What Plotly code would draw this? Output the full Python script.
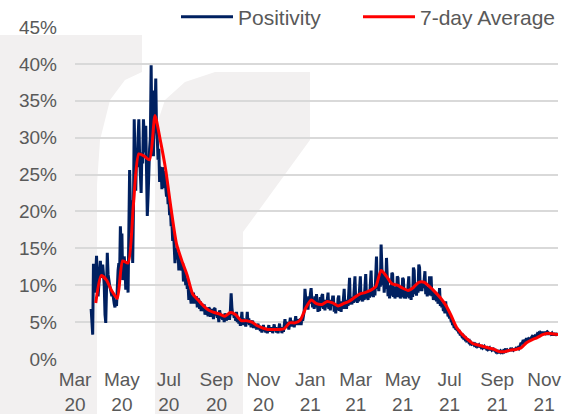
import pandas as pd
import plotly.graph_objects as go

# ---------------- data (percent) ----------------
# Daily test positivity, starting 2020-03-22, one row per week
positivity = [
    6.8, 5.0, 3.3, 12.9, 10.5, 9.0, 11.5,
    14.0, 11.0, 8.5, 10.0, 12.5, 13.3, 11.0,
    12.0, 12.8, 11.5, 10.0, 6.0, 4.9, 9.5,
    14.4, 11.5, 10.5, 10.0, 9.5, 9.0, 8.5,
    9.0, 8.0, 7.5, 7.0, 7.8, 7.2, 11.7,
    12.0, 13.0, 11.5, 18.0, 15.0, 17.0, 10.7,
    11.5, 13.9, 12.5, 9.4, 13.0, 12.5, 9.0,
    20.0, 25.6, 21.0, 17.0, 21.5, 13.0, 20.0,
    32.5, 27.0, 22.8, 28.0, 26.0, 30.0, 32.5,
    27.5, 24.0, 22.5, 28.0, 26.5, 32.5, 29.0,
    28.0, 31.6, 24.0, 19.4, 22.0, 27.0, 28.5,
    30.0, 39.8, 30.0, 36.0, 27.5, 36.4, 33.0,
    38.0, 31.0, 29.8, 27.0, 28.5, 24.0, 26.0,
    25.6, 23.0, 26.0, 23.2, 25.5, 24.5, 23.5,
    22.0, 23.5, 21.0, 22.0, 19.5, 20.5, 18.0,
    18.5, 16.0, 17.5, 15.5, 13.0, 15.0, 14.0,
    13.5, 14.5, 12.0, 13.8, 12.5, 13.0, 12.0,
    13.0, 10.5, 12.0, 11.5, 10.0, 11.0, 9.5,
    10.0, 8.0, 9.5, 8.5, 7.5, 8.5, 7.8,
    9.0, 7.5, 8.5, 7.8, 8.5, 7.0, 8.2,
    8.0, 6.8, 7.8, 6.5, 7.5, 6.5, 7.2,
    7.4, 6.0, 7.0, 6.2, 6.6, 5.8, 7.0,
    6.8, 5.7, 6.8, 6.0, 6.4, 5.4, 6.8,
    6.9, 5.9, 6.3, 5.6, 6.1, 5.0, 6.6,
    6.0, 5.5, 6.0, 5.3, 5.8, 5.0, 6.2,
    5.8, 5.2, 6.0, 5.5, 5.5, 5.5, 6.5,
    8.9, 7.0, 6.0, 6.2, 5.6, 5.8, 5.2,
    6.4, 5.0, 5.5, 4.8, 5.6, 4.5, 5.2,
    6.4, 4.6, 5.5, 4.6, 5.2, 4.4, 5.0,
    6.4, 4.8, 5.5, 4.6, 5.0, 4.3, 5.0,
    5.2, 4.2, 4.8, 4.2, 4.5, 4.0, 4.6,
    4.8, 4.0, 4.5, 3.8, 4.3, 3.6, 4.4,
    4.6, 3.8, 4.2, 3.6, 4.2, 3.5, 4.3,
    4.6, 3.7, 4.2, 3.8, 4.3, 3.5, 4.4,
    4.7, 3.8, 4.3, 3.6, 4.2, 3.5, 4.4,
    4.8, 3.8, 4.3, 3.5, 4.2, 3.7, 4.5,
    5.4, 4.3, 5.0, 4.4, 4.8, 4.0, 5.2,
    5.6, 4.4, 5.2, 4.5, 4.8, 4.3, 5.3,
    5.8, 4.6, 5.4, 4.6, 5.2, 4.8, 5.5,
    4.6, 5.5, 5.2, 5.8, 6.5, 9.5, 7.5,
    7.0, 8.0, 6.7, 8.5, 7.5, 8.8, 9.6,
    8.0, 7.0, 7.8, 6.8, 8.5, 7.0, 8.8,
    7.2, 6.4, 7.5, 6.5, 8.4, 7.0, 8.6,
    8.8, 6.8, 7.5, 6.6, 8.0, 7.0, 8.5,
    9.0, 6.8, 7.6, 6.6, 8.0, 7.2, 8.4,
    8.4, 6.4, 7.2, 6.2, 7.5, 6.6, 8.2,
    8.6, 6.5, 7.4, 6.4, 7.8, 6.8, 8.5,
    9.5, 6.8, 7.6, 6.8, 8.0, 7.2, 9.0,
    11.0, 7.4, 8.0, 7.4, 8.4, 7.6, 9.5,
    11.2, 7.8, 8.4, 7.6, 8.8, 7.8, 10.0,
    11.2, 8.0, 8.6, 7.8, 8.9, 8.0, 10.2,
    11.5, 8.2, 8.8, 8.0, 9.2, 8.3, 10.5,
    12.0, 8.5, 9.2, 8.4, 9.6, 8.6, 11.0,
    13.9, 9.5, 10.5, 9.2, 11.0, 9.8, 15.5,
    12.5, 10.0, 11.5, 9.0, 10.5, 9.5, 13.7,
    11.5, 8.5, 10.0, 8.2, 9.5, 8.6, 11.7,
    11.5, 8.4, 9.8, 8.2, 9.4, 8.4, 11.2,
    11.0, 8.4, 9.8, 8.2, 9.4, 8.4, 11.0,
    10.8, 8.2, 9.4, 8.2, 9.2, 8.4, 10.8,
    11.2, 8.2, 9.4, 8.0, 9.4, 8.4, 12.4,
    12.0, 8.8, 10.2, 8.6, 10.0, 9.0, 12.8,
    12.4, 9.2, 10.4, 9.2, 10.4, 9.6, 11.4,
    11.9, 8.8, 9.8, 8.5, 9.5, 8.6, 11.2,
    9.5, 11.2, 8.5, 9.2, 8.0, 8.8, 8.0,
    9.0, 7.8, 8.6, 7.5, 8.2, 9.6, 7.2,
    7.8, 7.0, 7.5, 6.5, 7.0, 6.2, 7.8,
    6.2, 6.6, 5.8, 6.0, 5.5, 5.8, 5.2,
    5.2, 4.6, 4.8, 4.2, 4.5, 4.0, 4.2,
    3.8, 4.0, 3.5, 3.6, 3.2, 3.4, 3.1,
    3.2, 2.9, 3.0, 2.7, 2.8, 2.5, 2.6,
    2.6, 2.3, 2.4, 2.1, 2.2, 2.0, 2.1,
    2.1, 1.9, 2.0, 1.8, 1.9, 1.7, 1.9,
    1.9, 1.6, 1.8, 1.6, 1.7, 1.5, 1.7,
    1.7, 1.4, 1.6, 1.4, 1.5, 1.3, 1.5,
    1.5, 1.2, 1.4, 1.2, 1.3, 1.1, 1.3,
    1.2, 1.0, 1.1, 0.9, 1.0, 0.8, 1.0,
    1.1, 0.9, 1.0, 0.9, 1.1, 1.0, 1.3,
    1.4, 1.1, 1.2, 1.0, 1.3, 1.1, 1.4,
    1.5, 1.1, 1.3, 1.2, 1.4, 1.2, 1.5,
    1.6, 1.3, 1.5, 1.4, 1.8, 1.9, 2.2,
    2.0, 2.3, 2.2, 2.6, 2.4, 2.5, 2.8,
    2.6, 2.7, 2.5, 2.9, 2.7, 2.8, 3.0,
    2.8, 3.0, 2.9, 3.1, 3.0, 3.2, 3.4,
    3.3, 3.5, 3.4, 3.6, 3.5, 3.7, 3.4,
    3.6, 3.4, 3.7, 3.5, 3.6, 3.3, 3.6,
    3.5, 3.3, 3.6, 3.4, 3.5, 3.2, 3.4,
    3.4, 3.2, 3.5, 3.3, 3.3, 3.4,
]
positivity_start = "2020-03-22"

# 7-day average, read weekly starting 2020-03-28
avg7 = [
    7.6, 11.3, 10.7, 9.2, 8.2, 13.3, 13.0, 21.0, 27.8, 27.5,
    27.0, 33.0, 29.6, 25.6, 20.3, 15.6, 13.3, 11.3, 8.8, 8.0,
    7.2, 6.6, 6.3, 6.1, 5.8, 6.3, 6.0, 5.2, 5.2, 5.0,
    4.5, 4.2, 4.0, 4.0, 4.0, 4.1, 4.9, 4.9, 5.3, 6.9,
    8.0, 7.5, 7.4, 7.8, 7.6, 7.2, 7.5, 7.8, 8.3, 8.8,
    9.0, 9.3, 9.8, 12.0, 11.2, 10.2, 10.0, 9.6, 9.3, 9.7,
    10.4, 10.4, 9.8, 9.1, 8.3, 7.3, 5.9, 4.3, 3.4, 2.7,
    2.1, 1.9, 1.7, 1.5, 1.3, 1.0, 1.0, 1.2, 1.3, 1.5,
    2.2, 2.6, 2.9, 3.3, 3.5, 3.4, 3.3,
]
avg7_start = "2020-03-28"

tick_dates = ["2020-03-01", "2020-05-01", "2020-07-01", "2020-09-01",
              "2020-11-01", "2021-01-01", "2021-03-01", "2021-05-01",
              "2021-07-01", "2021-09-01", "2021-11-01"]
tick_labels = ["Mar<br>20", "May<br>20", "Jul<br>20", "Sep<br>20",
               "Nov<br>20", "Jan<br>21", "Mar<br>21", "May<br>21",
               "Jul<br>21", "Sep<br>21", "Nov<br>21"]
y_ticks = [0, 5, 10, 15, 20, 25, 30, 35, 40, 45]
y_labels = [f"{v}%" for v in y_ticks]

# ---------------- figure ----------------
daily_dates = pd.date_range(positivity_start, periods=len(positivity), freq="D")
avg_dates = pd.date_range(avg7_start, periods=len(avg7), freq="7D")

W, H = 566, 414
ML, MR, MT, MB = 75, 8, 27, 55
PW, PH = W - ML - MR, H - MT - MB
FONT = "Liberation Sans, Arial, sans-serif"
GREY = "#595959"


def px(x):
    return (x - ML) / PW


def py(y):
    return (H - MB - y) / PH


def poly(points):
    return "M " + " L ".join(f"{px(a):.4f},{py(b):.4f}" for a, b in points) + " Z"


wm = "#f2f0f0"
shapes = [
    dict(type="path", xref="paper", yref="paper", layer="below", line_width=0,
         fillcolor=wm,
         path=poly([(0, 35), (142, 35), (142, 72), (125, 80), (110, 100),
                    (100, 140), (97, 185), (97, 414), (0, 414)])),
    dict(type="path", xref="paper", yref="paper", layer="below", line_width=0,
         fillcolor=wm,
         path=poly([(155, 414), (155, 130), (165, 100), (185, 82), (215, 72),
                    (310, 72), (310, 140), (243, 232), (243, 414)])),
]

fig = go.Figure()
fig.add_trace(go.Scatter(
    x=daily_dates, y=positivity, mode="lines", name="Positivity",
    line=dict(color="#002060", width=3), legend="legend"))
fig.add_trace(go.Scatter(
    x=avg_dates, y=avg7, mode="lines", name="7-day Average",
    line=dict(color="#ff0000", width=3, shape="spline", smoothing=0.6),
    legend="legend2"))

legend_style = dict(orientation="h", xanchor="left", yanchor="middle",
                    y=py(17), font=dict(size=21, color=GREY, family=FONT),
                    itemwidth=52, bgcolor="rgba(0,0,0,0)")

fig.update_layout(
    width=W, height=H,
    margin=dict(l=ML, r=MR, t=MT, b=MB, pad=0, autoexpand=False),
    paper_bgcolor="white", plot_bgcolor="rgba(0,0,0,0)",
    font=dict(family=FONT, color=GREY, size=19),
    shapes=shapes,
    showlegend=True,
    legend=dict(x=px(176), **legend_style),
    legend2=dict(x=px(358), **legend_style),
    xaxis=dict(type="date", range=["2020-03-01", "2021-11-19"],
               tickvals=tick_dates, ticktext=tick_labels,
               showgrid=False, zeroline=False, showline=False, ticks="",
               tickfont=dict(size=19, color=GREY, family=FONT),
               ticklabelstandoff=7, fixedrange=True),
    yaxis=dict(range=[0, 45], tickvals=y_ticks, ticktext=y_labels,
               tickmode="array",
               showgrid=True, gridcolor="#d9d9d9", gridwidth=1.5,
               zeroline=False, showline=False, ticks="",
               tickfont=dict(size=19, color=GREY, family=FONT),
               ticklabelstandoff=17, fixedrange=True),
)

fig.write_html("out.html", include_plotlyjs=True,
               config={"displayModeBar": False},
               post_script="document.body.style.margin='0';")
